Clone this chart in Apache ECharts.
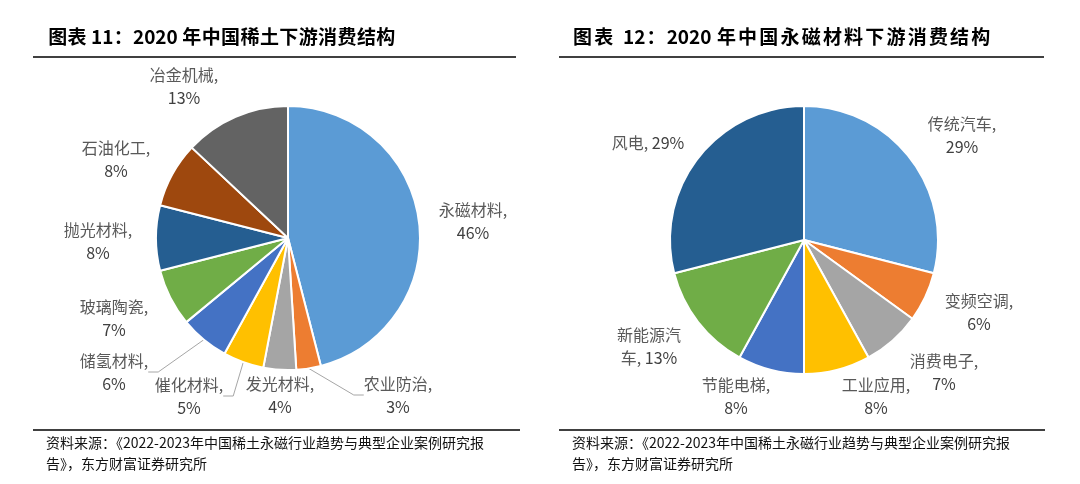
<!DOCTYPE html>
<html>
<head>
<meta charset="utf-8">
<script src="https://cdn.jsdelivr.net/npm/echarts@6/dist/echarts.min.js"></script>
<style>
html,body{margin:0;padding:0;background:#fff;}
#c{width:1080px;height:484px;}
</style>
</head>
<body>
<div id="c"></div>
<script>
// ---- data ----
const leftTitle = '图表 11：2020 年中国稀土下游消费结构';
const rightTitle = '图表 12：2020 年中国永磁材料下游消费结构';
const sourceLine1 = '资料来源：《2022-2023年中国稀土永磁行业趋势与典型企业案例研究报';
const sourceLine2 = '告》，东方财富证券研究所';

const leftCategories = ['永磁材料','农业防治','发光材料','催化材料','储氢材料','玻璃陶瓷','抛光材料','石油化工','冶金机械'];
const leftValues = [46, 3, 4, 5, 6, 7, 8, 8, 13];
const leftColors = ['#5B9BD5','#ED7D31','#A5A5A5','#FFC000','#4472C4','#70AD47','#255E91','#9E480E','#636363'];

const rightCategories = ['传统汽车','变频空调','消费电子','工业应用','节能电梯','新能源汽车','风电'];
const rightValues = [29, 6, 7, 8, 8, 13, 29];
const rightColors = ['#5B9BD5','#ED7D31','#A5A5A5','#FFC000','#4472C4','#70AD47','#255E91'];

// ---- label placement (layout, not data) ----
const leftLabelPos = [[473,221],[398,395],[280,395],[189,396],[114,372],[114,318],[98,241],[116,159],[184,86]];
const leftLeader = [false,true,false,true,true,false,false,false,false];
const rightLabelPos = [[962,135],[979,312],[944,372],[876,396],[736,396],[649,346],[648,143]];

const FONT = '"Noto Sans CJK SC", "Noto Sans", sans-serif';

function labelText(name, value) {
  if (name === '风电') return '{n|' + name + ', }{p|' + value + '%}';
  if (name === '新能源汽车') return '{n|' + name.slice(0,4) + '}\n{n|' + name.slice(4) + ', }{p|' + value + '%}';
  return '{n|' + name + ',}\n{p|' + value + '%}';
}

// spaced title: wide CJK characters get a little side padding
function spacedTitle(str) {
  return str.split('').map(ch => /[\u4e00-\u9fff\uff1a]/.test(ch) ? '{w|' + ch + '}' : '{t|' + ch + '}').join('');
}

function buildData(cats, vals, colors, leaders) {
  return cats.map((c, i) => ({
    name: c,
    value: vals[i],
    itemStyle: { color: colors[i] },
    labelLine: { show: leaders ? leaders[i] : false }
  }));
}

function pieSeries(center, radius, data, pos) {
  return {
    type: 'pie',
    center: center,
    radius: radius,
    startAngle: 90,
    clockwise: true,
    animation: false,
    avoidLabelOverlap: false,
    itemStyle: { borderColor: '#fff', borderWidth: 2 },
    label: {
      show: true,
      position: 'outside',
      formatter: p => labelText(p.name, p.value),
      lineHeight: 23,
      rich: {
        n: { fontFamily: FONT, fontSize: 16, color: '#595959', lineHeight: 23 },
        p: { fontFamily: FONT, fontSize: 16, color: '#404040', lineHeight: 23 }
      }
    },
    labelLine: { show: false, lineStyle: { color: '#A6A6A6', width: 1 }, length: 8, length2: 10 },
    labelLayout: function (params) {
      const p = pos[params.dataIndex];
      return { x: p[0], y: p[1], align: 'center', verticalAlign: 'middle' };
    },
    emphasis: { disabled: true },
    data: data
  };
}

const chart = echarts.init(document.getElementById('c'), null, { renderer: 'canvas' });

const titleRich = (pad) => ({
  w: { fontFamily: FONT, fontSize: 19, fontWeight: 'bold', color: '#000', padding: [0, pad, 0, pad] },
  t: { fontFamily: FONT, fontSize: 19, fontWeight: 'bold', color: '#000' }
});

const option = {
  backgroundColor: '#fff',
  title: [
    { text: spacedTitle(leftTitle), left: 48, top: 27, padding: 0,
      textStyle: { fontFamily: FONT, fontSize: 19, fontWeight: 'bold', color: '#000', rich: titleRich(0.2) } },
    { text: spacedTitle(rightTitle.replace('图表 ', '图表  ')), left: 572, top: 27, padding: 0,
      textStyle: { fontFamily: FONT, fontSize: 19, fontWeight: 'bold', color: '#000', rich: titleRich(1.1) } }
  ],
  graphic: [
    { type: 'line', shape: { x1: 33, y1: 57, x2: 516, y2: 57 }, style: { stroke: '#000', lineWidth: 1.5 } },
    { type: 'line', shape: { x1: 559, y1: 57, x2: 1044, y2: 57 }, style: { stroke: '#000', lineWidth: 1.5 } },
    { type: 'line', shape: { x1: 33, y1: 430, x2: 520, y2: 430 }, style: { stroke: '#000', lineWidth: 1.5 } },
    { type: 'line', shape: { x1: 559, y1: 430, x2: 1045, y2: 430 }, style: { stroke: '#000', lineWidth: 1.5 } },
    { type: 'text', left: 46, top: 432, style: { text: sourceLine1 + '\n' + sourceLine2, font: '14px ' + FONT, fill: '#111', lineHeight: 21 } },
    { type: 'text', left: 572, top: 432, style: { text: sourceLine1 + '\n' + sourceLine2, font: '14px ' + FONT, fill: '#111', lineHeight: 21 } }
  ],
  series: [
    pieSeries([288, 238], 132, buildData(leftCategories, leftValues, leftColors, leftLeader), leftLabelPos),
    pieSeries([804, 240], 134, buildData(rightCategories, rightValues, rightColors, null), rightLabelPos)
  ]
};
chart.setOption(option);
</script>
</body>
</html>
